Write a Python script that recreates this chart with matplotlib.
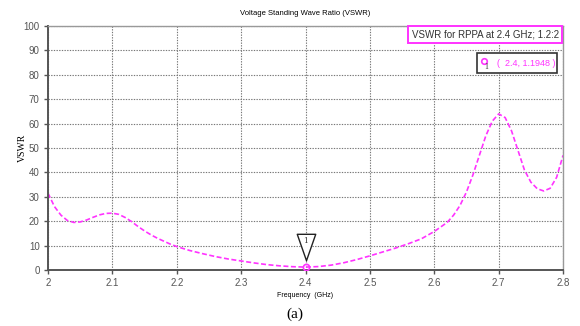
import matplotlib
matplotlib.use('Agg')
import matplotlib.pyplot as plt
from matplotlib.path import Path
from matplotlib.patches import Rectangle
from matplotlib.transforms import offset_copy

# values
freq = [2.00, 2.01, 2.02, 2.03, 2.04, 2.05, 2.06, 2.07, 2.08, 2.09,
        2.10, 2.11, 2.12, 2.13, 2.14, 2.15, 2.16, 2.17, 2.18, 2.19,
        2.20, 2.22, 2.24, 2.26, 2.28, 2.30, 2.32, 2.34, 2.36, 2.38,
        2.40, 2.42, 2.44, 2.46, 2.48, 2.50, 2.52, 2.54, 2.56, 2.58,
        2.60, 2.62, 2.63, 2.64, 2.65, 2.66, 2.67, 2.68, 2.69, 2.70,
        2.71, 2.72, 2.73, 2.74, 2.75, 2.76, 2.77, 2.78, 2.79, 2.80]
vswr = [31.5, 26.0, 22.5, 20.3, 19.5, 19.7, 20.5, 21.6, 22.6, 23.2,
        23.3, 22.8, 21.5, 19.8, 17.8, 16.0, 14.4, 13.0, 11.8, 10.6,
        9.6, 8.0, 6.7, 5.5, 4.5, 3.7, 2.9, 2.2, 1.7, 1.35,
        1.19, 1.4, 2.0, 3.0, 4.3, 5.8, 7.4, 9.0, 10.8, 12.8,
        15.8, 19.5, 22.5, 26.5, 32.0, 39.0, 47.0, 55.0, 61.0, 64.0,
        62.5, 57.0, 49.0, 41.0, 36.0, 33.3, 32.4, 33.5, 38.0, 47.0]

marker_f = 2.4
marker_v = 1.1948

xticks = [2, 2.1, 2.2, 2.3, 2.4, 2.5, 2.6, 2.7, 2.8]
xticklabels = ['2', '2.1', '2.2', '2.3', '2.4', '2.5', '2.6', '2.7', '2.8']
yticks = list(range(0, 101, 10))

mag = '#ff33ff'
sans = 'Liberation Sans'

fig = plt.figure(figsize=(5.8, 3.26), dpi=100)
ax = fig.add_axes([0.0828, 0.1718, 0.888, 0.7482])

ax.plot(freq, vswr, color=mag, linestyle=(0, (3, 1.5)), linewidth=1.2)

# marker point and triangle flag
ax.plot([marker_f], [marker_v], marker='o', markersize=4.5, markerfacecolor='none',
        markeredgecolor=mag, markeredgewidth=1.2, linestyle='none', zorder=5)
tri = Path([(-0.35, 0.5), (0.35, 0.5), (0.0, -0.5), (-0.35, 0.5)],
           [Path.MOVETO, Path.LINETO, Path.LINETO, Path.CLOSEPOLY])
tr = offset_copy(ax.transData, fig=fig, x=0, y=14.5, units='points')
ax.plot([marker_f], [marker_v], marker=tri, markersize=19, markerfacecolor='white',
        markeredgecolor='#222222', markeredgewidth=1.0, transform=tr, zorder=6)
tr2 = offset_copy(ax.transData, fig=fig, x=0, y=18.5, units='points')
ax.text(marker_f, marker_v, '1', transform=tr2, ha='center', va='center',
        fontsize=5.5, family='DejaVu Serif', color='#333333', zorder=7)

ax.set_xlim(2, 2.8)
ax.set_ylim(0, 100)
ax.set_xticks(xticks)
ax.set_xticklabels(xticklabels)
ax.set_yticks(yticks)
ax.tick_params(axis='both', direction='out', length=3, width=1, colors='#555555',
               labelsize=7, pad=3)
for lab in ax.get_xticklabels() + ax.get_yticklabels():
    lab.set_family(sans)
    lab.set_color('#555555')

ax.grid(True, linestyle=(0, (1.2, 1.2)), color='#777777', linewidth=0.8)
for s in ['left', 'bottom']:
    ax.spines[s].set_color('#555555')
    ax.spines[s].set_linewidth(1.4)
for s in ['top', 'right']:
    ax.spines[s].set_color('#999999')
    ax.spines[s].set_linewidth(1.0)

ax.set_title('Voltage Standing Wave Ratio (VSWR)', fontsize=5.5, family=sans, pad=8)
ax.set_xlabel('Frequency  (GHz)', fontsize=5, family=sans, labelpad=3)
ax.set_ylabel('VSWR', fontsize=7, family='Liberation Serif')
ax.yaxis.set_label_coords(-0.042, 0.5)

ax.text(0.992, 0.985, 'VSWR for RPPA at 2.4 GHz; 1.2:2', transform=ax.transAxes,
        ha='right', va='top', fontsize=7, family=sans, color='#333333',
        bbox=dict(boxstyle='square,pad=0.35', facecolor='white', edgecolor=mag, linewidth=1.4))

# marker readout box
ax.add_patch(Rectangle((0.833, 0.807), 0.155, 0.082, transform=ax.transAxes,
                       facecolor='white', edgecolor='#333333', linewidth=1.2, zorder=6))
ax.text(0.928, 0.848, '(  2.4, 1.1948 )', transform=ax.transAxes,
        ha='center', va='center', fontsize=6.5, family=sans, color=mag, zorder=7)
ax.plot([0.846], [0.858], transform=ax.transAxes, marker='o', markersize=4,
        markerfacecolor='none', markeredgecolor=mag, markeredgewidth=1.2, zorder=8, clip_on=False)
ax.text(0.851, 0.832, '1', transform=ax.transAxes, ha='center', va='center',
        fontsize=5.5, family='Liberation Serif', color='#333333', zorder=9)

fig.text(0.508, 0.035, '(a)', ha='center', va='center', fontsize=11, family='Liberation Serif')

fig.savefig('out.png', dpi=100)
